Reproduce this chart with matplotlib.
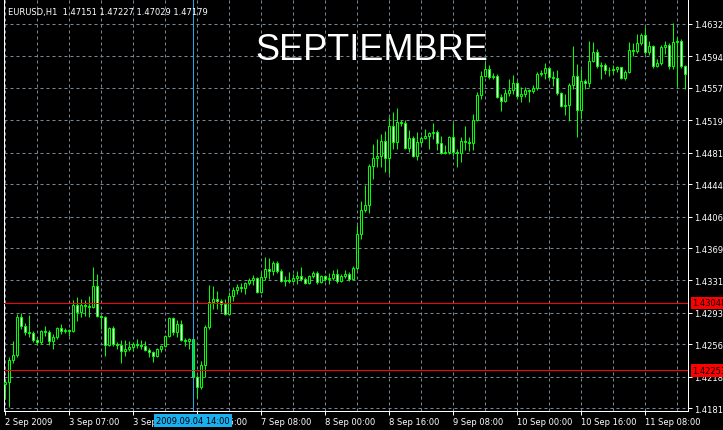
import numpy as np
import matplotlib

matplotlib.use("Agg")
import matplotlib.pyplot as plt

# EURUSD H1, bar 0 = 2 Sep 2009 15:00 (broker time)
first_open = 1.42093
closes = [
    1.42117, 1.42375, 1.42434, 1.42880, 1.42774, 1.42704, 1.42692, 1.42610, 1.42586, 1.42715,
    1.42704, 1.42598, 1.42645, 1.42751, 1.42715, 1.42727, 1.42715, 1.43021, 1.42938, 1.43021,
    1.43009, 1.42997, 1.43244, 1.42891, 1.42880, 1.42551, 1.42751, 1.42563, 1.42551, 1.42481,
    1.42504, 1.42527, 1.42563, 1.42551, 1.42539, 1.42492, 1.42469, 1.42422, 1.42504, 1.42539,
    1.42657, 1.42868, 1.42704, 1.42797, 1.42610, 1.42598, 1.42621, 1.42175, 1.42058, 1.42316,
    1.42762, 1.43056, 1.43091, 1.43068, 1.43032, 1.42915, 1.43126, 1.43197, 1.43232, 1.43220,
    1.43279, 1.43314, 1.43338, 1.43173, 1.43349, 1.43443, 1.43420, 1.43514, 1.43420, 1.43302,
    1.43314, 1.43302, 1.43338, 1.43361, 1.43326, 1.43279, 1.43361, 1.43396, 1.43291, 1.43361,
    1.43326, 1.43338, 1.43384, 1.43302, 1.43361, 1.43384, 1.43326, 1.43455, 1.43854, 1.44136,
    1.44195, 1.44652, 1.44746, 1.44770, 1.44946, 1.44746, 1.45122, 1.44934, 1.45169, 1.45157,
    1.44864, 1.44981, 1.44770, 1.44934, 1.44981, 1.45005, 1.45040, 1.45052, 1.44922, 1.44805,
    1.44817, 1.44993, 1.44817, 1.44805, 1.44946, 1.44934, 1.44922, 1.45192, 1.45486, 1.45709,
    1.45791, 1.45697, 1.45709, 1.45462, 1.45416, 1.45509, 1.45545, 1.45627, 1.45474, 1.45498,
    1.45545, 1.45533, 1.45568, 1.45732, 1.45744, 1.45803, 1.45697, 1.45686, 1.45509, 1.45357,
    1.45369, 1.45603, 1.45709, 1.45310, 1.45650, 1.45627, 1.45885, 1.45991, 1.45826, 1.45838,
    1.45779, 1.45779, 1.45791, 1.45815, 1.45686, 1.45756, 1.46014, 1.46003, 1.46096, 1.46190,
    1.45991, 1.46061, 1.45826, 1.45862, 1.46049, 1.46073, 1.45826, 1.46108, 1.46120, 1.45826,
    1.45732,
]
highs = [
    1.42152, 1.42410, 1.42598, 1.42915, 1.42927, 1.42809, 1.42903, 1.42715, 1.42645, 1.42727,
    1.42774, 1.42727, 1.42680, 1.42762, 1.42797, 1.42751, 1.42739, 1.43079, 1.43114, 1.43091,
    1.43079, 1.43126, 1.43467, 1.43384, 1.42903, 1.42891, 1.42762, 1.42774, 1.42586, 1.42610,
    1.42610, 1.42598, 1.42586, 1.42621, 1.42610, 1.42598, 1.42516, 1.42481, 1.42516, 1.42551,
    1.42668, 1.42880, 1.42880, 1.42844, 1.42844, 1.42633, 1.42633, 1.42633, 1.42199, 1.42363,
    1.42786, 1.43255, 1.43244, 1.43185, 1.43091, 1.43091, 1.43173, 1.43232, 1.43267, 1.43279,
    1.43291, 1.43338, 1.43373, 1.43349, 1.43408, 1.43584, 1.43572, 1.43537, 1.43537, 1.43443,
    1.43361, 1.43408, 1.43384, 1.43420, 1.43467, 1.43349, 1.43373, 1.43420, 1.43420, 1.43373,
    1.43373, 1.43396, 1.43431, 1.43443, 1.43384, 1.43431, 1.43408, 1.43478, 1.43960, 1.44242,
    1.44429, 1.44676, 1.44911, 1.44969, 1.45028, 1.45063, 1.45228, 1.45286, 1.45333, 1.45192,
    1.45192, 1.45075, 1.45005, 1.45052, 1.45005, 1.45087, 1.45052, 1.45157, 1.45075, 1.45005,
    1.44899, 1.45005, 1.45157, 1.44852, 1.44993, 1.45122, 1.44993, 1.45263, 1.45521, 1.45768,
    1.45873, 1.45838, 1.45744, 1.45732, 1.45498, 1.45556, 1.45674, 1.45721, 1.45650, 1.45580,
    1.45580, 1.45556, 1.45603, 1.45756, 1.45779, 1.45862, 1.45815, 1.45768, 1.45779, 1.45521,
    1.45498, 1.45627, 1.46061, 1.45850, 1.45791, 1.45674, 1.46120, 1.46108, 1.46026, 1.45873,
    1.45862, 1.45815, 1.45838, 1.45826, 1.45815, 1.45779, 1.46108, 1.46096, 1.46202, 1.46214,
    1.46284, 1.46120, 1.46073, 1.45909, 1.46073, 1.46120, 1.46096, 1.46331, 1.46167, 1.46143,
    1.45838,
]
lows = [
    1.41917, 1.41823, 1.42340, 1.42410, 1.42739, 1.42668, 1.42645, 1.42586, 1.42551, 1.42563,
    1.42657, 1.42551, 1.42504, 1.42621, 1.42680, 1.42692, 1.42657, 1.42704, 1.42833, 1.42880,
    1.42891, 1.42880, 1.42985, 1.42880, 1.42739, 1.42422, 1.42539, 1.42539, 1.42504, 1.42340,
    1.42422, 1.42481, 1.42481, 1.42516, 1.42504, 1.42481, 1.42410, 1.42351, 1.42410, 1.42469,
    1.42527, 1.42645, 1.42668, 1.42645, 1.42598, 1.42539, 1.42504, 1.42152, 1.41929, 1.42034,
    1.42175, 1.42739, 1.42974, 1.42974, 1.42938, 1.42903, 1.42903, 1.43068, 1.43150, 1.43173,
    1.43150, 1.43255, 1.43255, 1.43161, 1.43161, 1.43314, 1.43326, 1.43373, 1.43396, 1.43291,
    1.43244, 1.43279, 1.43291, 1.43267, 1.43302, 1.43267, 1.43267, 1.43338, 1.43267, 1.43279,
    1.43302, 1.43267, 1.43314, 1.43279, 1.43291, 1.43338, 1.43302, 1.43314, 1.43431, 1.43795,
    1.44112, 1.44101, 1.44500, 1.44641, 1.44641, 1.44582, 1.44558, 1.44852, 1.44852, 1.45122,
    1.44852, 1.44817, 1.44758, 1.44723, 1.44899, 1.44969, 1.44852, 1.44969, 1.44840, 1.44793,
    1.44793, 1.44793, 1.44770, 1.44641, 1.44699, 1.44840, 1.44829, 1.44840, 1.45181, 1.45439,
    1.45697, 1.45674, 1.45674, 1.45451, 1.45298, 1.45404, 1.45474, 1.45498, 1.45451, 1.45404,
    1.45462, 1.45404, 1.45509, 1.45545, 1.45709, 1.45674, 1.45674, 1.45592, 1.45486, 1.45345,
    1.45251, 1.45181, 1.45556, 1.44993, 1.45204, 1.45556, 1.45580, 1.45873, 1.45803, 1.45674,
    1.45732, 1.45709, 1.45732, 1.45756, 1.45674, 1.45662, 1.45744, 1.45944, 1.45979, 1.46073,
    1.45967, 1.45956, 1.45803, 1.45815, 1.45838, 1.45967, 1.45791, 1.45791, 1.45580, 1.45803,
    1.45556,
]
opens = [first_open] + closes[:-1]

price_ticks = [1.46320, 1.45940, 1.45570, 1.45190, 1.44810, 1.44440, 1.44060,
               1.43690, 1.43310, 1.42930, 1.42560, 1.42180, 1.41810]
time_tick_bars = [0, 16, 32, 48, 64, 80, 96, 112, 128, 144, 160]
time_tick_labels = ["2 Sep 2009", "3 Sep 07:00", "3 Sep 23:00", "4 Sep 15:00",
                    "7 Sep 08:00", "8 Sep 00:00", "8 Sep 16:00", "9 Sep 08:00",
                    "10 Sep 00:00", "10 Sep 16:00", "11 Sep 08:00"]
level_lines = [1.43048, 1.42253]
vline_bar = 47
vline_label = "2009.09.04 14:00"
header = "EURUSD,H1  1.47151 1.47227 1.47029 1.47179"
title = "SEPTIEMBRE"

W, H = 723, 431
LIME = "#00ff00"
GRID = "#778899"
PX = 0.72  # one pixel in points at dpi 100
FS = 6.0

fig = plt.figure(figsize=(W / 100, H / 100), dpi=100, facecolor="black")
ax = fig.add_axes([4 / W, 19 / H, 684 / W, 412 / H], facecolor="black")

o = np.array(opens)
c = np.array(closes)
hi = np.array(highs)
lo = np.array(lows)
x = np.arange(len(c))
bull = c >= o

ax.vlines(x, lo, hi, color=LIME, lw=PX, zorder=3)
ax.bar(x, np.abs(c - o), bottom=np.minimum(o, c), width=0.5,
       color=np.where(bull, "black", "white"), edgecolor=LIME,
       linewidth=PX, zorder=4)

for lvl in level_lines:
    ax.axhline(lvl, color="#ff0000", lw=PX, zorder=5)
    ax.annotate(f"{lvl:.5f}", xy=(1, lvl), xycoords=("axes fraction", "data"),
                xytext=(3, 0), textcoords="offset points", ha="left", va="center",
                fontsize=FS, color="black", annotation_clip=False, zorder=10,
                bbox=dict(boxstyle="square,pad=0.2", fc="#ff0000", ec="none"))

ax.axvline(vline_bar, color="#22a8e6", lw=PX, zorder=6)
ax.annotate(vline_label, xy=(vline_bar, 0), xycoords=("data", "axes fraction"),
            xytext=(0, -7), textcoords="offset points", ha="center", va="center",
            fontsize=FS, color="black", annotation_clip=False, zorder=10,
            bbox=dict(boxstyle="square,pad=0.25", fc="#1ab0f0", ec="none"))

ax.set_xlim(-0.25, 170.75)
ax.set_ylim(1.41777, 1.46613)

ax.set_xticks(np.arange(8, 170, 8), minor=True)
ax.set_xticks(time_tick_bars)
ax.set_xticklabels(time_tick_labels, ha="left", fontsize=FS, color="white")
ax.yaxis.tick_right()
ax.set_yticks(price_ticks)
ax.set_yticklabels([f"{p:.5f}" for p in price_ticks], fontsize=FS, color="white")
ax.tick_params(axis="x", which="major", length=4 * PX, width=PX, color="white", pad=1.5)
ax.tick_params(axis="x", which="minor", length=0)
ax.tick_params(axis="y", length=4 * PX, width=PX, color="white", pad=1.5)

ax.grid(True, which="both", color=GRID, lw=PX, linestyle=(0, (3, 3)), zorder=1)
ax.set_axisbelow(True)
for side in ("left", "right", "bottom"):
    ax.spines[side].set_color("white")
    ax.spines[side].set_linewidth(PX)
ax.spines["top"].set_visible(False)

fig.text(8 / W, 1 - 12 / H, header, fontsize=FS, color="white", va="center")
fig.text(372 / W, 1 - 50 / H, title, fontsize=26, color="white",
         ha="center", va="center", family="Liberation Sans")

fig.savefig("out.png", dpi=100, facecolor="black")
